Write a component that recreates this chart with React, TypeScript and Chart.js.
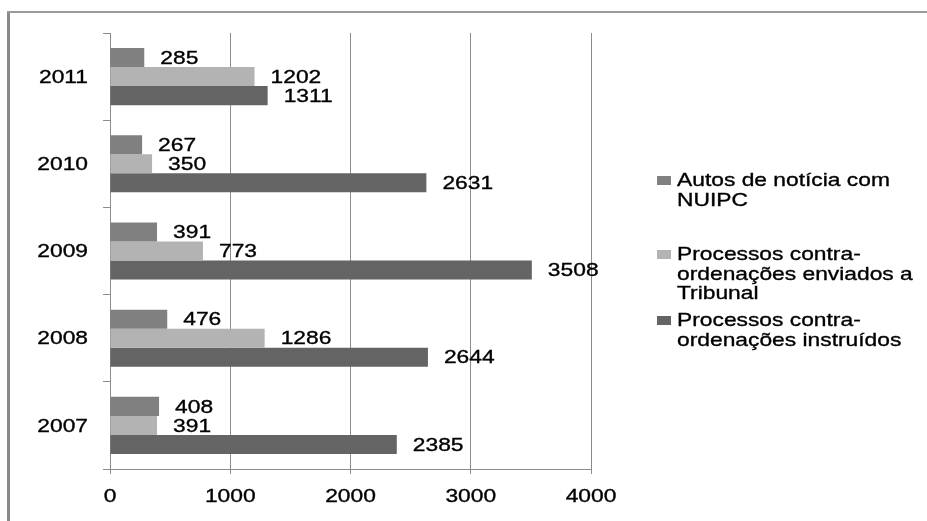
import React, { useEffect, useRef } from "react";
import { Chart, registerables } from "chart.js";

Chart.register(...registerables);

const categories = ["2011", "2010", "2009", "2008", "2007"];
const autosNuipc = [285, 267, 391, 476, 408];
const enviadosTribunal = [1202, 350, 773, 1286, 391];
const instruidos = [1311, 2631, 3508, 2644, 2385];
const xTickValues = [0, 1000, 2000, 3000, 4000];

const legendLines = [
  ["Autos de notícia com", "NUIPC"],
  ["Processos contra-", "ordenações enviados a", "Tribunal"],
  ["Processos contra-", "ordenações instruídos"],
];

const colors = ["#808080", "#b3b3b3", "#646464"];

const FONT = "'Liberation Sans', Arial, sans-serif";
const STRETCH = 1.2;

function stretchedText(
  ctx: CanvasRenderingContext2D,
  text: string,
  x: number,
  y: number,
  align: CanvasTextAlign,
  size: number
) {
  ctx.save();
  ctx.translate(x, y);
  ctx.scale(STRETCH, 1);
  ctx.font = `${size}px ${FONT}`;
  ctx.textAlign = align;
  ctx.textBaseline = "middle";
  ctx.fillStyle = "#000";
  ctx.strokeStyle = "#000";
  ctx.lineWidth = 0.35;
  ctx.fillText(text, 0, 0);
  ctx.strokeText(text, 0, 0);
  ctx.restore();
}

const textPlugin = {
  id: "allText",
  afterDatasetsDraw(chart: any) {
    const ctx = chart.ctx;
    // bar value labels
    chart.data.datasets.forEach((ds: any, di: number) => {
      const meta = chart.getDatasetMeta(di);
      meta.data.forEach((bar: any, i: number) => {
        stretchedText(ctx, String(ds.data[i]), bar.x + 16, bar.y + 1, "left", 19);
      });
    });
  },
  afterDraw(chart: any) {
    const ctx = chart.ctx;
    const xs = chart.scales.x;
    const ys = chart.scales.y;
    // y tick labels
    categories.forEach((c, i) => {
      stretchedText(ctx, c, 88, ys.getPixelForValue(i) + 1, "right", 19);
    });
    // x tick labels
    xTickValues.forEach((v) => {
      stretchedText(ctx, String(v), xs.getPixelForValue(v), 497, "center", 19);
    });
    // legend
    const starts = [181, 255, 321];
    const lh = 19.5;
    legendLines.forEach((lines, e) => {
      const y0 = starts[e];
      ctx.save();
      ctx.fillStyle = colors[e];
      ctx.fillRect(657, y0 - 5, 14, 9);
      ctx.restore();
      lines.forEach((t, k) => {
        stretchedText(ctx, t, 677, y0 + k * lh, "left", 19);
      });
    });
    // outer frame
    ctx.save();
    ctx.fillStyle = "#8a8a8a";
    ctx.fillRect(7, 11, 3, 510);
    ctx.fillStyle = "#9a9a9a";
    ctx.fillRect(7, 11, 920, 2);
    ctx.restore();
  },
};

export default function App() {
  const ref = useRef<HTMLCanvasElement>(null);
  useEffect(() => {
    const canvas = ref.current;
    if (!canvas) return;
    const chart = new Chart(canvas, {
      type: "bar",
      data: {
        labels: categories,
        datasets: [
          { label: legendLines[0].join(" "), data: autosNuipc, backgroundColor: colors[0] },
          { label: legendLines[1].join(" "), data: enviadosTribunal, backgroundColor: colors[1] },
          { label: legendLines[2].join(" "), data: instruidos, backgroundColor: colors[2] },
        ],
      },
      options: {
        indexAxis: "y",
        animation: false,
        responsive: false,
        devicePixelRatio: 1,
        datasets: {
          bar: { categoryPercentage: 0.655, barPercentage: 1 },
        },
        layout: { padding: { left: 0, right: 336, top: 33, bottom: 0 } },
        plugins: { legend: { display: false }, tooltip: { enabled: false } },
        scales: {
          x: {
            type: "linear",
            min: xTickValues[0],
            max: xTickValues[xTickValues.length - 1],
            afterBuildTicks: (s: any) => {
              s.ticks = xTickValues.map((v) => ({ value: v }));
            },
            ticks: { display: false },
            grid: { color: "#8c8c8c", tickLength: 5, drawTicks: true },
            border: { color: "#8c8c8c" },
            afterFit: (s: any) => {
              s.height = 52;
            },
          },
          y: {
            ticks: { display: false },
            grid: { color: "#8c8c8c", drawOnChartArea: false, tickLength: 7 },
            border: { color: "#8c8c8c" },
            afterFit: (s: any) => {
              s.width = 110;
            },
          },
        },
      } as any,
      plugins: [textPlugin],
    });
    return () => chart.destroy();
  }, []);
  return (
    <div style={{ position: "absolute", left: 0, top: 0, width: 927, height: 521 }}>
      <canvas ref={ref} width={927} height={521} style={{ display: "block" }} />
    </div>
  );
}
